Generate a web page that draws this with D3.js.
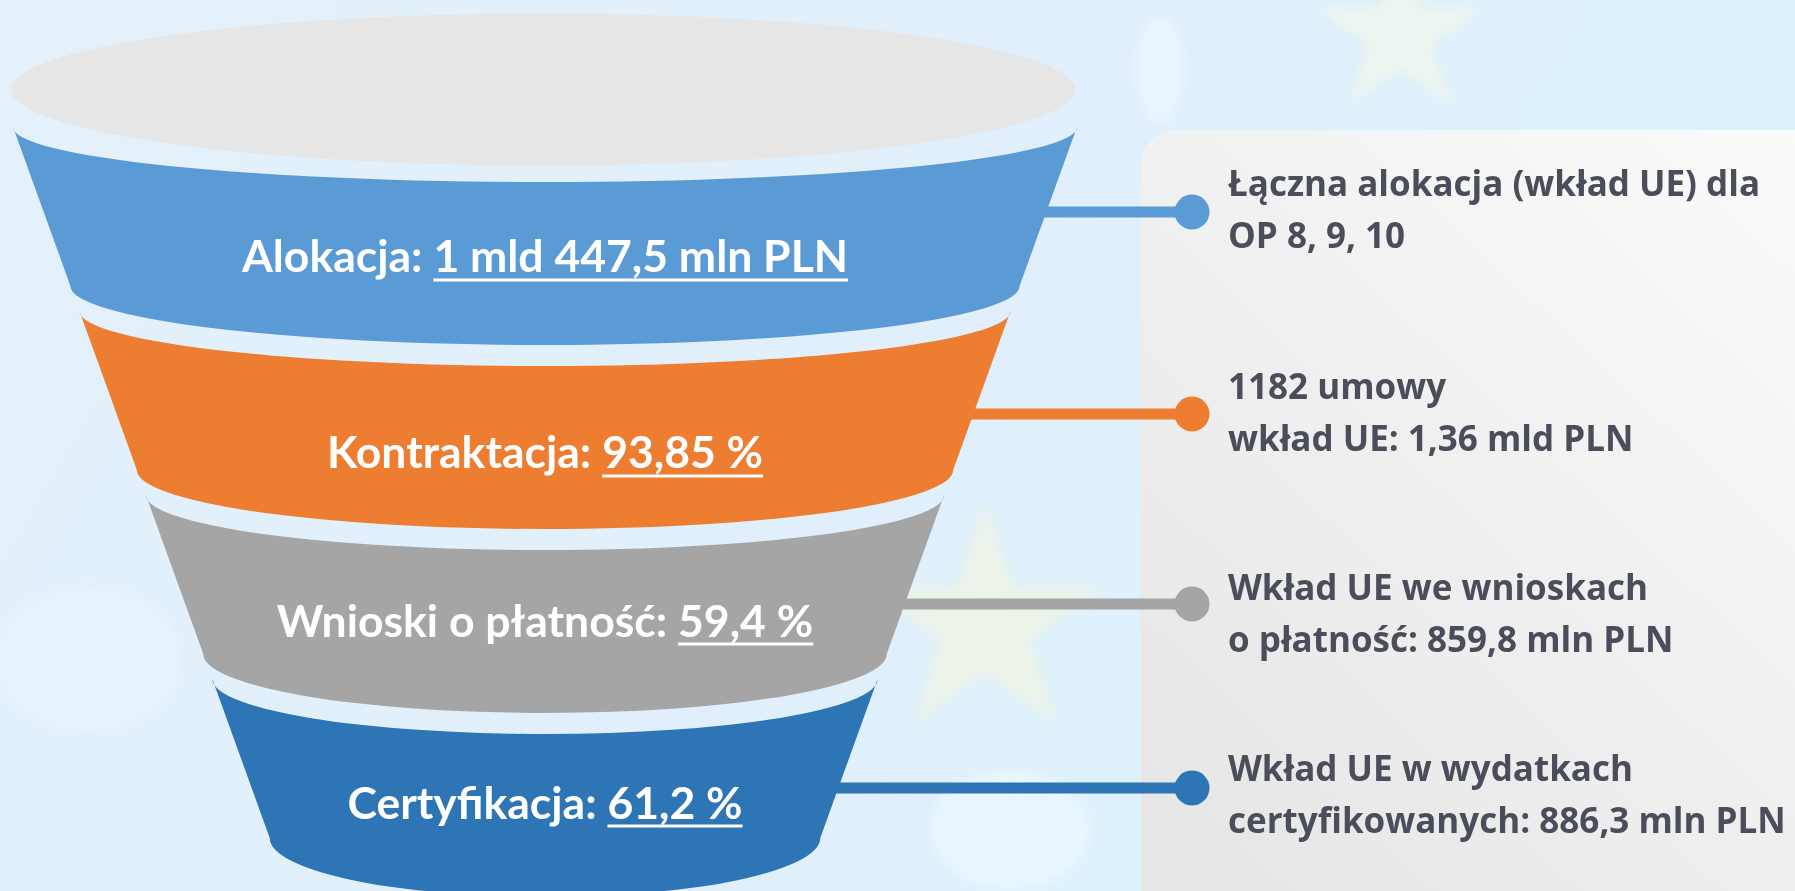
<!DOCTYPE html>
<html>
<head>
<meta charset="utf-8">
<script src="https://cdn.jsdelivr.net/npm/d3@7"></script>
<style>
  html, body { margin: 0; padding: 0; overflow: hidden; }
  body { width: 1795px; height: 891px; }
</style>
</head>
<body>
<div class="chart"></div>
<script>
var svgWidth = 1795;
var svgHeight = 891;

// funnel stages
var stages = ["Alokacja", "Kontraktacja", "Wnioski o płatność", "Certyfikacja"];
var stageValues = ["1 mld 447,5 mln PLN", "93,85 %", "59,4 %", "61,2 %"];

// notes on the right, one array of lines per stage
var notes = [
  ["Łączna alokacja (wkład UE) dla", "OP 8, 9, 10"],
  ["1182 umowy", "wkład UE: 1,36 mld PLN"],
  ["Wkład UE we wnioskach", "o płatność: 859,8 mln PLN"],
  ["Wkład UE w wydatkach", "certyfikowanych: 886,3 mln PLN"]
];

var palette = ["#5b9bd5", "#ed7d31", "#a5a5a5", "#2e75b6"];

// layout
var cx = 545;
var ryTop = 55, ryBottom = 59;
var labelShift = [0, 12, -4, -6];
var noteBaseline = [196, 399, 600, 781];
var dotY = [212, 414, 604, 788];
var dotX = 1192;
var noteX = 1228;

var color = d3.scaleOrdinal().domain(stages).range(palette);

var y = d3.scaleBand()
  .domain(stages)
  .range([127, 838])
  .paddingInner(0.136)
  .paddingOuter(0);

// half width of the cone at a given height
var halfWidth = d3.scaleLinear()
  .domain([127, 836])
  .range([532, 276]);

var svg = d3.select(".chart")
  .append("svg")
  .attr("width", svgWidth)
  .attr("height", svgHeight);

var defs = svg.append("defs");

var bg = defs.append("linearGradient")
  .attr("id", "bg")
  .attr("x1", "0").attr("y1", "0").attr("x2", "1").attr("y2", "0.3");
bg.append("stop").attr("offset", "0").attr("stop-color", "#e4f1fb");
bg.append("stop").attr("offset", "0.6").attr("stop-color", "#e0effb");
bg.append("stop").attr("offset", "1").attr("stop-color", "#dcf3fc");

var panelGrad = defs.append("linearGradient")
  .attr("id", "panel")
  .attr("x1", "1").attr("y1", "0").attr("x2", "0.2").attr("y2", "1");
panelGrad.append("stop").attr("offset", "0").attr("stop-color", "#fbfbfb");
panelGrad.append("stop").attr("offset", "1").attr("stop-color", "#e6e6e6");

defs.append("filter")
  .attr("id", "soft")
  .attr("x", "-50%").attr("y", "-50%").attr("width", "200%").attr("height", "200%")
  .append("feGaussianBlur")
  .attr("stdDeviation", 6);

// background
svg.append("rect")
  .attr("width", svgWidth)
  .attr("height", svgHeight)
  .attr("fill", "url(#bg)");

// faint clouds and stars of the photo behind
var clouds = svg.append("g").attr("filter", "url(#soft)").attr("opacity", 0.35);
clouds.append("ellipse").attr("cx", 1010).attr("cy", 830).attr("rx", 80).attr("ry", 60).attr("fill", "#ffffff");
clouds.append("ellipse").attr("cx", 1160).attr("cy", 70).attr("rx", 25).attr("ry", 55).attr("fill", "#ffffff");
clouds.append("ellipse").attr("cx", 90).attr("cy", 660).attr("rx", 90).attr("ry", 70).attr("fill", "#f4fafe");

var star = d3.symbol().type(d3.symbolStar);
var stars = svg.append("g").attr("filter", "url(#soft)").attr("opacity", 0.5);
stars.append("path")
  .attr("d", star.size(17000)())
  .attr("transform", "translate(985,625)")
  .attr("fill", "#fbf8d6");
stars.append("path")
  .attr("d", star.size(9000)())
  .attr("transform", "translate(1400,35)")
  .attr("fill", "#fbfbe6");

// grey panel with notes
svg.append("rect")
  .attr("x", 1141)
  .attr("y", 130)
  .attr("width", 700)
  .attr("height", 820)
  .attr("rx", 35)
  .attr("fill", "url(#panel)");

// connector lines (behind the funnel)
svg.append("g").selectAll("line")
  .data(stages)
  .enter().append("line")
    .attr("x1", cx)
    .attr("x2", dotX)
    .attr("y1", function(d, i) { return dotY[i]; })
    .attr("y2", function(d, i) { return dotY[i]; })
    .attr("stroke", function(d) { return color(d); })
    .attr("stroke-width", 11);

// mouth of the funnel
svg.append("ellipse")
  .attr("cx", 543)
  .attr("cy", 89.5)
  .attr("rx", 532)
  .attr("ry", 76)
  .attr("fill", "#e6e6e6");

function segmentPath(d) {
  var t = y(d);
  var b = t + y.bandwidth();
  var wt = halfWidth(t);
  var wb = halfWidth(b);
  return "M" + (cx - wt) + "," + t +
    "A" + wt + "," + ryTop + " 0 0 0 " + (cx + wt) + "," + t +
    "L" + (cx + wb) + "," + b +
    "A" + wb + "," + ryBottom + " 0 0 1 " + (cx - wb) + "," + b +
    "Z";
}

svg.append("g").selectAll("path")
  .data(stages)
  .enter().append("path")
    .attr("d", segmentPath)
    .attr("fill", function(d) { return color(d); });

// dots
svg.append("g").selectAll("circle")
  .data(stages)
  .enter().append("circle")
    .attr("cx", dotX)
    .attr("cy", function(d, i) { return dotY[i]; })
    .attr("r", 17.5)
    .attr("fill", function(d) { return color(d); });

// labels inside the funnel
var labels = svg.append("g").selectAll("text")
  .data(stages)
  .enter().append("text")
    .attr("x", cx)
    .attr("y", function(d, i) { return y(d) + y.bandwidth() / 2 + 66 + labelShift[i]; })
    .attr("text-anchor", "middle")
    .style("font-family", "Lato, 'Open Sans', sans-serif")
    .style("font-weight", 700)
    .style("font-size", "44.5px")
    .style("fill", "#ffffff");

labels.append("tspan").text(function(d) { return d + ": "; });
labels.append("tspan").attr("class", "val").text(function(d, i) { return stageValues[i]; });

// underline the values
labels.each(function(d) {
  var el = this;
  var start = d.length + 2;
  var x0 = el.getStartPositionOfChar(start).x;
  var w = d3.select(el).select(".val").node().getComputedTextLength();
  var baseY = +d3.select(el).attr("y");
  svg.append("rect")
    .attr("x", x0)
    .attr("y", baseY + 6)
    .attr("width", w)
    .attr("height", 3)
    .attr("fill", "#ffffff");
});

// notes on the right
var noteText = svg.append("g").selectAll("text")
  .data(notes)
  .enter().append("text")
    .attr("x", noteX)
    .attr("y", function(d, i) { return noteBaseline[i]; })
    .style("font-family", "'Open Sans', sans-serif")
    .style("font-weight", 700)
    .style("font-size", "35px")
    .style("fill", "#4a4e5b");

noteText.selectAll("tspan")
  .data(function(d) { return d; })
  .enter().append("tspan")
    .attr("x", noteX)
    .attr("dy", function(d, i) { return i === 0 ? 0 : 52; })
    .text(function(d) { return d; });
</script>
</body>
</html>
